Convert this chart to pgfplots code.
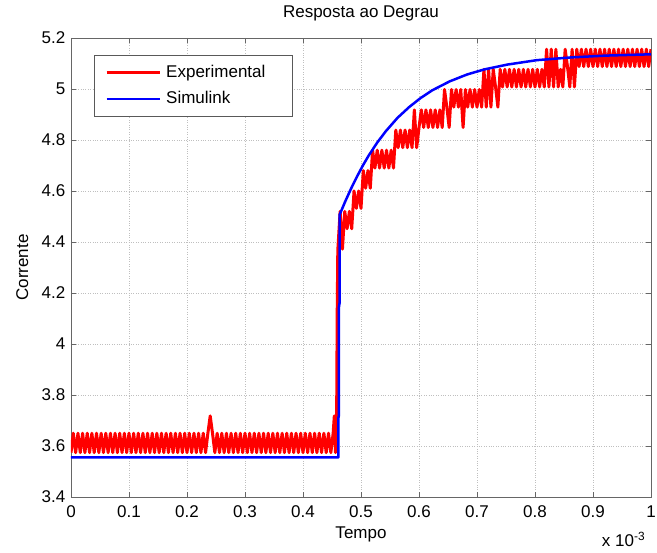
\documentclass[border=0pt]{standalone}
\usepackage{fontspec}
\setmainfont{Liberation Sans}
\usepackage{pgfplots}
\pgfplotsset{compat=1.18}
\begin{document}
\fontsize{17}{20}\selectfont
\begin{tikzpicture}
\useasboundingbox (-71pt,-56pt) rectangle (586pt,497pt);
\begin{axis}[
  name=ax,
  scale only axis, width=580pt, height=459pt,
  xmin=0, xmax=1000, ymin=3.4, ymax=5.2,
  xtick={0,100,200,300,400,500,600,700,800,900,1000},
  xticklabels={0,0.1,0.2,0.3,0.4,0.5,0.6,0.7,0.8,0.9,1},
  ytick={3.4,3.6,3.8,4,4.2,4.4,4.6,4.8,5,5.2},
  yticklabels={3.4,3.6,3.8,4,4.2,4.4,4.6,4.8,5,5.2},
  /pgf/number format/assume math mode=true,
  yticklabel style={anchor=east, inner sep=0pt, xshift=-5.5pt},
  xticklabel style={anchor=base, inner sep=0pt, yshift=-20.5pt},
  tick align=inside, major tick length=5pt,
  tick style={gray!80!black, thin},
  axis line style={gray!80!black},
  grid=major, grid style={dotted, gray!50, thin},
  title={Resposta ao Degrau},
  title style={at={(axis description cs:0.5,1.032)}, anchor=base, yshift=0pt},
  xlabel={Tempo},
  xlabel style={at={(axis description cs:0.5,-0.0871)}, anchor=base, yshift=-2pt},
  ylabel={Corrente},
  ylabel style={at={(axis description cs:-0.0741,0.5)}, anchor=base},
  legend cell align=left,
  legend style={at={(axis description cs:0.0397,0.963)}, anchor=north west,
    draw=gray!70!black, fill=white, inner xsep=11pt, inner ysep=9.8pt,
    row sep=11.6pt, nodes={inner sep=0pt},
    /tikz/every odd column/.append style={column sep=5pt}},
  legend image code/.code={\draw[#1] (0pt,0pt) -- (53pt,0pt);},
]
\addplot[red, line width=3pt, line join=round] coordinates {
(0,3.574)(4,3.650)(8,3.574)(12,3.650)(16,3.574)(20,3.650)(24,3.574)(28,3.650)(32,3.574)(36,3.650)(40,3.574)(44,3.650)(48,3.574)(52,3.650)(56,3.574)(60,3.650)(64,3.574)(68,3.650)(72,3.574)(76,3.650)(80,3.574)(84,3.650)(88,3.574)(92,3.650)(96,3.574)(100,3.650)(104,3.574)(108,3.650)(112,3.574)(116,3.650)(120,3.574)(124,3.650)(128,3.574)(132,3.650)(136,3.574)(140,3.650)(144,3.574)(148,3.650)(152,3.574)(156,3.650)(160,3.574)(164,3.650)(168,3.574)(172,3.650)(176,3.574)(180,3.650)(184,3.574)(188,3.650)(192,3.574)(196,3.650)(200,3.574)(204,3.650)(208,3.574)(212,3.650)(216,3.574)(220,3.650)(224,3.574)(228,3.650)(232,3.574)(236,3.650)(240,3.718)(244,3.650)(248,3.574)(252,3.650)(256,3.574)(260,3.650)(264,3.574)(268,3.650)(272,3.574)(276,3.650)(280,3.574)(284,3.650)(288,3.574)(292,3.650)(296,3.574)(300,3.650)(304,3.574)(308,3.650)(312,3.574)(316,3.650)(320,3.574)(324,3.650)(328,3.574)(332,3.650)(336,3.574)(340,3.650)(344,3.574)(348,3.650)(352,3.574)(356,3.650)(360,3.574)(364,3.650)(368,3.574)(372,3.650)(376,3.574)(380,3.650)(384,3.574)(388,3.650)(392,3.574)(396,3.650)(400,3.574)(404,3.650)(408,3.574)(412,3.650)(416,3.574)(420,3.650)(424,3.574)(428,3.650)(432,3.574)(436,3.650)(440,3.574)(444,3.650)(448,3.574)(452,3.650)(454,3.718)(456,3.574)(458,3.718)
(459,4.129)(460,4.367)(464,4.520)(468,4.372)(472,4.520)(476,4.452)(480,4.520)(484,4.452)(488,4.600)(492,4.532)(496,4.600)(500,4.532)(504,4.680)(508,4.611)(512,4.680)(516,4.611)(520,4.760)(524,4.690)(528,4.760)(532,4.690)(536,4.760)(540,4.690)(544,4.760)(548,4.690)(552,4.760)(556,4.690)(560,4.839)(564,4.770)(568,4.839)(572,4.770)(576,4.839)(580,4.770)(584,4.839)(588,4.770)(592,4.918)(596,4.770)(600,4.849)(604,4.918)(608,4.849)(612,4.918)(616,4.849)(620,4.918)(624,4.849)(628,4.918)(632,4.849)(636,4.918)(640,4.849)(644,4.998)(648,4.929)(652,4.849)(656,4.998)(660,4.929)(664,4.998)(668,4.929)(672,4.998)(676,4.849)(680,4.998)(684,4.929)(688,4.998)(692,4.929)(696,4.998)(700,4.929)(704,4.998)(708,4.929)(712,5.077)(716,4.929)(720,5.077)(724,4.929)(728,5.077)(732,5.008)(736,4.929)(740,5.077)(744,5.008)(748,5.077)(752,5.008)(756,5.077)(760,5.008)(764,5.077)(768,5.008)(772,5.077)(776,5.008)(780,5.077)(784,5.008)(788,5.077)(792,5.008)(796,5.077)(800,5.008)(804,5.077)(808,5.008)(812,5.077)(816,5.008)(820,5.156)(824,5.008)(828,5.156)(832,5.008)(836,5.156)(840,5.008)(844,5.077)(848,5.008)(852,5.156)(856,5.088)(860,5.008)(864,5.156)(868,5.008)(872,5.156)(876,5.088)(880,5.156)(884,5.088)(888,5.156)(892,5.088)(896,5.156)(900,5.088)(904,5.156)(908,5.088)(912,5.156)(916,5.088)(920,5.156)(924,5.088)(928,5.156)(932,5.088)(936,5.156)(940,5.088)(944,5.156)(948,5.088)(952,5.156)(956,5.088)(960,5.156)(964,5.088)(968,5.156)(972,5.088)(976,5.156)(980,5.088)(984,5.156)(988,5.088)(992,5.156)(996,5.088)(1000,5.156)
};
\addlegendentry{\raisebox{0pt}[12.4pt][0pt]{\makebox[115pt][l]{Experimental}}}
\addplot[blue, line width=2.5pt, line join=round] coordinates {
(0,3.555)(461,3.555)(461,3.71)(462,3.72)(462,4.145)(463,4.16)(463,4.506)(468,4.533)(473,4.560)(483,4.610)(493,4.656)(503,4.699)(513,4.738)(528,4.790)(543,4.835)(563,4.887)(583,4.929)(603,4.965)(623,4.995)(653,5.030)(683,5.057)(713,5.077)(753,5.096)(803,5.113)(863,5.124)(923,5.131)(1000,5.136)
};
\addlegendentry{\raisebox{0pt}[12.4pt][0pt]{\makebox[115pt][l]{Simulink}}}
\end{axis}
\node[anchor=base east] at ([yshift=-50pt]ax.south east) {x 10\textsuperscript{-3}};
\end{tikzpicture}
\end{document}
